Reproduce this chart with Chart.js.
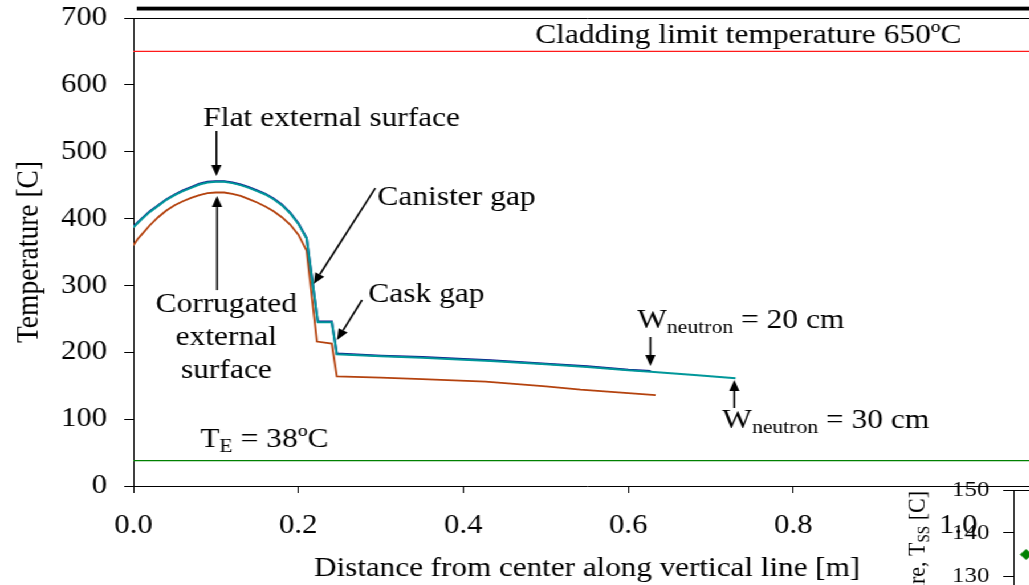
<!DOCTYPE html>
<html>
<head>
<meta charset="utf-8">
<script src="https://cdn.jsdelivr.net/npm/chart.js@4.4.1/dist/chart.umd.min.js"></script>
<style>
  html, body { margin: 0; padding: 0; background: #fff; overflow: hidden; }
  /* the source figure is stretched sideways, so the whole drawing is too */
  #wrap { position: relative; width: 925px; height: 585px; transform: scaleX(1.14); transform-origin: 0 0; }
  #main { position: absolute; left: 0; top: 0; }
  #inset { position: absolute; left: 780px; top: 470px; }
</style>
</head>
<body>
<div id="wrap">
  <canvas id="main" width="925" height="585"></canvas>
  <canvas id="inset" width="300" height="400"></canvas>
</div>
<script>
// flat surface, W neutron = 30 cm (teal)
const tealX = [0.00, 0.01, 0.02, 0.03, 0.04, 0.05, 0.06, 0.07, 0.08, 0.09, 0.10,
               0.11, 0.12, 0.13, 0.14, 0.15, 0.16, 0.17, 0.18, 0.19, 0.20, 0.21,
               0.2236, 0.2405, 0.2466, 0.30, 0.35, 0.40, 0.433, 0.50, 0.55, 0.60, 0.627, 0.68, 0.73];
const tealT = [387, 399, 410, 419, 428, 435, 441, 446, 451, 454, 455,
               455, 453, 450, 446, 441, 436, 429, 420, 408, 392, 370,
               245, 245, 197, 194, 192, 189, 187, 182, 178, 173, 171, 166, 161];

// flat surface, W neutron = 20 cm (blue)
const blueX = [0.00, 0.01, 0.02, 0.03, 0.04, 0.05, 0.06, 0.07, 0.08, 0.09, 0.10,
               0.11, 0.12, 0.13, 0.14, 0.15, 0.16, 0.17, 0.18, 0.19, 0.20, 0.21,
               0.2236, 0.2405, 0.2466, 0.30, 0.35, 0.40, 0.433, 0.50, 0.55, 0.60, 0.627];
const blueT = [388, 400, 411, 420, 429, 436, 442, 447, 452, 455, 456,
               456, 454, 451, 447, 442, 437, 430, 421, 409, 393, 371,
               246, 246, 198, 195, 193, 190, 188, 183, 179, 174, 172];

// corrugated surface (orange)
const orangeX = [0.00, 0.005, 0.01, 0.02, 0.03, 0.04, 0.05, 0.06, 0.07, 0.08, 0.09, 0.10,
                 0.11, 0.12, 0.13, 0.14, 0.15, 0.16, 0.17, 0.18, 0.19, 0.20, 0.21,
                 0.2225, 0.2405, 0.2466, 0.30, 0.35, 0.427, 0.50, 0.542, 0.60, 0.633];
const orangeT = [360, 369, 376, 390, 402, 412, 420, 426, 431, 435, 438, 439,
                 439, 437, 434, 429, 424, 418, 411, 402, 391, 376, 352,
                 216, 213, 164, 162, 160, 156, 149, 144, 139, 136];

const claddingLimit = 650;
const ambientT = 38;
const xMax = 1.1;
const xTicks = [0.0, 0.2, 0.4, 0.6, 0.8, 1.0];

// second figure that overlaps the bottom right corner
const insetX = [0.6];
const insetT = [135];

const SERIF = "'Liberation Serif', 'Times New Roman', serif";
Chart.defaults.font.family = SERIF;
Chart.defaults.color = '#000';

function pts(xs, ys) {
    return xs.map((x, i) => ({ x: x, y: ys[i] }));
}

// text labels and arrows, placed in data units
const notes = [
    { parts: [['Cladding limit temperature 650ºC', 0]], x: 0.487, y: 662.6, align: 'left' },
    { parts: [['Flat external surface', 0]], x: 0.0848, y: 538.4, align: 'left' },
    { parts: [['Corrugated', 0]], x: 0.1127, y: 260.2, align: 'center' },
    { parts: [['external', 0]], x: 0.1127, y: 210.9, align: 'center' },
    { parts: [['surface', 0]], x: 0.1127, y: 161.5, align: 'center' },
    { parts: [['Canister gap', 0]], x: 0.2958, y: 420.3, align: 'left' },
    { parts: [['Cask gap', 0]], x: 0.2848, y: 275.2, align: 'left' },
    { parts: [['W', 0], ['neutron', 1], [' = 20 cm', 0]], x: 0.6109, y: 236.3, align: 'left' },
    { parts: [['W', 0], ['neutron', 1], [' = 30 cm', 0]], x: 0.7139, y: 86.7, align: 'left' },
    { parts: [['T', 0], ['E', 1], [' = 38ºC', 0]], x: 0.0812, y: 58.3, align: 'left' }
];

const arrows = [
    { from: [0.1006, 531], to: [0.1006, 463.6] },
    { from: [0.1014, 293], to: [0.1014, 433.7] },
    { from: [0.2933, 445.7], to: [0.2185, 302] },
    { from: [0.2772, 278.2], to: [0.2469, 218.4] },
    { from: [0.6267, 222.9], to: [0.6267, 179.5] },
    { from: [0.7285, 116.7], to: [0.7285, 158.5] }
];

function drawParts(ctx, parts, x, y, align, size, subSize, subShift) {
    let total = 0;
    const widths = parts.map(p => {
        ctx.font = (p[1] ? subSize : size) + 'px ' + SERIF;
        const w = ctx.measureText(p[0]).width;
        total += w;
        return w;
    });
    let cx = align === 'center' ? x - total / 2 : (align === 'right' ? x - total : x);
    parts.forEach((p, i) => {
        ctx.font = (p[1] ? subSize : size) + 'px ' + SERIF;
        ctx.fillText(p[0], cx, y + (p[1] ? subShift : 0));
        cx += widths[i];
    });
}

function drawArrow(ctx, x1, y1, x2, y2) {
    const ang = Math.atan2(y2 - y1, x2 - x1);
    const len = 11, half = 4.5;
    const bx = x2 - len * Math.cos(ang), by = y2 - len * Math.sin(ang);
    ctx.beginPath();
    ctx.moveTo(x1, y1);
    ctx.lineTo(bx, by);
    ctx.lineWidth = 1.6;
    ctx.stroke();
    ctx.beginPath();
    ctx.moveTo(x2, y2);
    ctx.lineTo(bx + half * Math.sin(ang), by - half * Math.cos(ang));
    ctx.lineTo(bx - half * Math.sin(ang), by + half * Math.cos(ang));
    ctx.closePath();
    ctx.fill();
}

const notesPlugin = {
    id: 'notes',
    afterDraw(chart) {
        const ctx = chart.ctx;
        const xs = chart.scales.x, ys = chart.scales.y;
        ctx.save();
        ctx.fillStyle = '#000';
        ctx.strokeStyle = '#000';
        ctx.textBaseline = 'alphabetic';
        ctx.textAlign = 'left';
        notes.forEach(n => {
            drawParts(ctx, n.parts, xs.getPixelForValue(n.x), ys.getPixelForValue(n.y), n.align, 27.6, 19, 5);
        });
        arrows.forEach(a => {
            drawArrow(ctx,
                xs.getPixelForValue(a.from[0]), ys.getPixelForValue(a.from[1]),
                xs.getPixelForValue(a.to[0]), ys.getPixelForValue(a.to[1]));
        });
        // heavy rule above the plot
        const top = chart.chartArea.top;
        ctx.fillStyle = '#aaa';
        ctx.fillRect(chart.chartArea.left + 3, top - 12, chart.width, 1);
        ctx.fillStyle = '#000';
        ctx.fillRect(chart.chartArea.left + 3, top - 11, chart.width, 3.5);
        ctx.restore();
    }
};

function curve(data, color, width, order) {
    return {
        data: data,
        borderColor: color,
        borderWidth: width,
        pointRadius: 0,
        fill: false,
        tension: 0,
        order: order
    };
}

function noPad(s) {
    s.paddingTop = 0;
    s.paddingBottom = 0;
}

const mainChart = new Chart(document.getElementById('main'), {
    type: 'line',
    data: {
        datasets: [
            curve(pts(tealX, tealT), '#00979a', 2, 0),
            curve(pts(blueX, blueT), '#10168a', 2, 1),
            curve(pts(orangeX, orangeT), '#b4420e', 1.8, 2),
            curve([{ x: 0, y: claddingLimit }, { x: xMax, y: claddingLimit }], '#ff1a1a', 1.2, 3),
            curve([{ x: 0, y: ambientT }, { x: xMax, y: ambientT }], '#008000', 1.4, 3)
        ]
    },
    options: {
        responsive: false,
        animation: false,
        layout: { padding: { top: 18, right: 12, left: 0, bottom: 0 } },
        plugins: { legend: { display: false }, tooltip: { enabled: false } },
        scales: {
            x: {
                type: 'linear',
                min: 0,
                max: xMax,
                afterBuildTicks: s => { s.ticks = xTicks.map(v => ({ value: v })); },
                afterFit: s => { s.height = 99; s.paddingLeft = 0; s.paddingRight = 0; },
                ticks: { font: { size: 27 }, padding: 17, maxRotation: 0, callback: v => v.toFixed(1) },
                grid: { drawOnChartArea: false, tickLength: 7, tickColor: '#000' },
                border: { color: '#000', width: 1 },
                title: {
                    display: true,
                    text: 'Distance from center along vertical line [m]',
                    font: { size: 27.3 },
                    padding: { top: 0, bottom: 0 }
                }
            },
            y: {
                min: 0,
                max: 700,
                afterFit: s => { s.width = 117; noPad(s); },
                ticks: { stepSize: 100, font: { size: 27 }, padding: 15 },
                grid: {
                    color: c => (c.tick && c.tick.value === 700) ? '#000' : 'rgba(0,0,0,0)',
                    tickColor: '#000',
                    tickLength: 8
                },
                border: { color: '#000', width: 1 },
                title: {
                    display: true,
                    text: 'Temperature [C]',
                    font: { size: 27.5 },
                    padding: { top: 9, bottom: 0 }
                }
            }
        }
    },
    plugins: [notesPlugin]
});

const insetTitle = {
    id: 'insetTitle',
    afterDraw(chart) {
        const ctx = chart.ctx;
        ctx.save();
        ctx.fillStyle = '#000';
        ctx.translate(30.5, chart.chartArea.top + 1);
        ctx.rotate(-Math.PI / 2);
        ctx.textBaseline = 'alphabetic';
        ctx.textAlign = 'left';
        drawParts(ctx, [['Temperature, T', 0], ['SS', 1], [' [C]', 0]], 0, 0, 'right', 22, 15, 4);
        ctx.restore();
    }
};

const insetChart = new Chart(document.getElementById('inset'), {
    type: 'line',
    data: {
        datasets: [{
            data: pts(insetX, insetT),
            showLine: false,
            pointStyle: 'rectRot',
            pointRadius: 5,
            backgroundColor: '#008000',
            borderColor: '#008000'
        }]
    },
    options: {
        responsive: false,
        animation: false,
        layout: { padding: { top: 20, right: 0, left: 0, bottom: 165 } },
        plugins: { legend: { display: false }, tooltip: { enabled: false } },
        scales: {
            x: { type: 'linear', min: 0, max: 10, display: false },
            y: {
                min: 100,
                max: 150,
                afterFit: s => { s.width = 109; noPad(s); },
                ticks: { stepSize: 10, font: { size: 22 }, padding: 12 },
                grid: {
                    color: c => (c.tick && c.tick.value === 150) ? '#000' : 'rgba(0,0,0,0)',
                    tickColor: '#000',
                    tickLength: 9
                },
                border: { color: '#000', width: 1 }
            }
        }
    },
    plugins: [insetTitle]
});
</script>
</body>
</html>
